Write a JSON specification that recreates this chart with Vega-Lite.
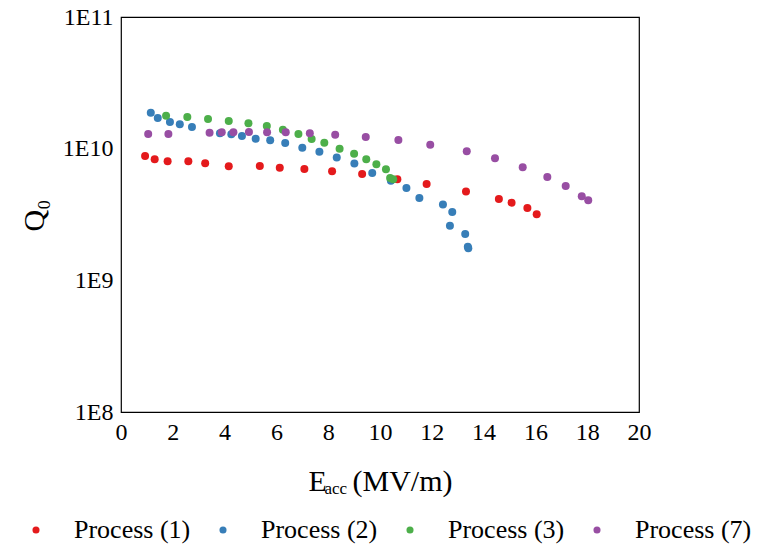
{
  "$schema": "https://vega.github.io/schema/vega-lite/v6.json",
  "width": 518,
  "height": 395,
  "autosize": {"type": "none"},
  "padding": {"left": 121, "top": 17, "right": 123, "bottom": 135},
  "background": "white",
  "config": {
    "font": "Liberation Serif",
    "view": {"stroke": "#000000", "strokeWidth": 1.2},
    "axis": {"domain": false, "grid": false, "ticks": false, "tickSize": 0, "labelFont": "Liberation Serif", "titleFont": "Liberation Serif", "labelColor": "#000000", "titleColor": "#000000", "titleFontWeight": "normal"}
  },
  "data": {"values": [
    {"p":"Process (1)","x":0.93,"q":8.80e9},
    {"p":"Process (1)","x":1.30,"q":8.31e9},
    {"p":"Process (1)","x":1.80,"q":8.03e9},
    {"p":"Process (1)","x":2.60,"q":8.03e9},
    {"p":"Process (1)","x":3.25,"q":7.75e9},
    {"p":"Process (1)","x":4.16,"q":7.35e9},
    {"p":"Process (1)","x":5.36,"q":7.38e9},
    {"p":"Process (1)","x":6.13,"q":7.17e9},
    {"p":"Process (1)","x":7.08,"q":7.01e9},
    {"p":"Process (1)","x":8.15,"q":6.73e9},
    {"p":"Process (1)","x":9.31,"q":6.42e9},
    {"p":"Process (1)","x":10.67,"q":5.86e9},
    {"p":"Process (1)","x":11.80,"q":5.40e9},
    {"p":"Process (1)","x":13.32,"q":4.72e9},
    {"p":"Process (1)","x":14.59,"q":4.15e9},
    {"p":"Process (1)","x":15.08,"q":3.89e9},
    {"p":"Process (1)","x":15.69,"q":3.55e9},
    {"p":"Process (1)","x":16.05,"q":3.18e9},
    {"p":"Process (2)","x":1.15,"q":1.876e10},
    {"p":"Process (2)","x":1.42,"q":1.711e10},
    {"p":"Process (2)","x":1.89,"q":1.595e10},
    {"p":"Process (2)","x":2.27,"q":1.532e10},
    {"p":"Process (2)","x":2.74,"q":1.462e10},
    {"p":"Process (2)","x":3.82,"q":1.309e10},
    {"p":"Process (2)","x":4.26,"q":1.286e10},
    {"p":"Process (2)","x":4.67,"q":1.248e10},
    {"p":"Process (2)","x":5.20,"q":1.191e10},
    {"p":"Process (2)","x":5.76,"q":1.158e10},
    {"p":"Process (2)","x":6.34,"q":1.105e10},
    {"p":"Process (2)","x":7.00,"q":1.018e10},
    {"p":"Process (2)","x":7.66,"q":9.49e9},
    {"p":"Process (2)","x":8.33,"q":8.55e9},
    {"p":"Process (2)","x":9.01,"q":7.72e9},
    {"p":"Process (2)","x":9.70,"q":6.54e9},
    {"p":"Process (2)","x":10.42,"q":5.71e9},
    {"p":"Process (2)","x":11.02,"q":5.03e9},
    {"p":"Process (2)","x":11.52,"q":4.22e9},
    {"p":"Process (2)","x":12.43,"q":3.76e9},
    {"p":"Process (2)","x":12.79,"q":3.31e9},
    {"p":"Process (2)","x":12.70,"q":2.60e9},
    {"p":"Process (2)","x":13.29,"q":2.25e9},
    {"p":"Process (2)","x":13.39,"q":1.80e9},
    {"p":"Process (2)","x":13.41,"q":1.75e9},
    {"p":"Process (3)","x":1.74,"q":1.781e10},
    {"p":"Process (3)","x":2.56,"q":1.741e10},
    {"p":"Process (3)","x":3.36,"q":1.681e10},
    {"p":"Process (3)","x":4.16,"q":1.623e10},
    {"p":"Process (3)","x":4.92,"q":1.560e10},
    {"p":"Process (3)","x":5.63,"q":1.488e10},
    {"p":"Process (3)","x":6.25,"q":1.394e10},
    {"p":"Process (3)","x":6.85,"q":1.293e10},
    {"p":"Process (3)","x":7.36,"q":1.185e10},
    {"p":"Process (3)","x":7.85,"q":1.111e10},
    {"p":"Process (3)","x":8.44,"q":1.0e10},
    {"p":"Process (3)","x":9.00,"q":9.16e9},
    {"p":"Process (3)","x":9.47,"q":8.31e9},
    {"p":"Process (3)","x":9.86,"q":7.61e9},
    {"p":"Process (3)","x":10.23,"q":6.97e9},
    {"p":"Process (3)","x":10.39,"q":5.99e9},
    {"p":"Process (3)","x":10.51,"q":5.86e9},
    {"p":"Process (7)","x":1.05,"q":1.293e10},
    {"p":"Process (7)","x":1.83,"q":1.293e10},
    {"p":"Process (7)","x":3.42,"q":1.323e10},
    {"p":"Process (7)","x":3.89,"q":1.332e10},
    {"p":"Process (7)","x":4.34,"q":1.332e10},
    {"p":"Process (7)","x":4.94,"q":1.339e10},
    {"p":"Process (7)","x":5.64,"q":1.332e10},
    {"p":"Process (7)","x":6.36,"q":1.332e10},
    {"p":"Process (7)","x":7.29,"q":1.309e10},
    {"p":"Process (7)","x":8.27,"q":1.278e10},
    {"p":"Process (7)","x":9.45,"q":1.227e10},
    {"p":"Process (7)","x":10.71,"q":1.164e10},
    {"p":"Process (7)","x":11.94,"q":1.073e10},
    {"p":"Process (7)","x":13.35,"q":9.56e9},
    {"p":"Process (7)","x":14.44,"q":8.46e9},
    {"p":"Process (7)","x":15.51,"q":7.22e9},
    {"p":"Process (7)","x":16.46,"q":6.10e9},
    {"p":"Process (7)","x":17.17,"q":5.21e9},
    {"p":"Process (7)","x":17.79,"q":4.35e9},
    {"p":"Process (7)","x":18.04,"q":4.06e9}
  ]},
  "layer": [
    {
      "mark": {"type": "circle", "size": 64, "opacity": 1},
      "encoding": {
        "x": {"field": "x", "type": "quantitative", "scale": {"domain": [0, 20], "nice": false, "zero": false},
              "axis": {"orient": "bottom", "values": [0,2,4,6,8,10,12,14,16,18,20], "labelFlush": false, "labelFont": "Liberation Serif", "labelFontSize": 24, "labelPadding": 8, "title": "E", "titleFontSize": 30, "titleX": 187, "titleY": 78, "titleAlign": "left", "titleBaseline": "alphabetic", "titleAngle": 0}},
        "y": {"field": "q", "type": "quantitative", "scale": {"type": "log", "domain": [1e8, 1e11], "nice": false},
              "axis": {"orient": "left", "values": [1e8, 1e9, 1e10, 1e11], "labelFlush": false, "labelFont": "Liberation Serif", "labelExpr": "'1E' + format(log(datum.value)/LN10, '.0f')", "labelFontSize": 24, "labelPadding": 8, "title": "Q₀", "titleFontSize": 30, "titleX": -78, "titleY": 198, "titleAngle": -90, "titleAlign": "center", "titleBaseline": "alphabetic"}},
        "color": {"field": "p", "type": "nominal",
                  "scale": {"domain": ["Process (1)", "Process (2)", "Process (3)", "Process (7)"], "range": ["#e41a1c", "#377eb8", "#4daf4a", "#984ea3"]},
                  "legend": {"title": null, "orient": "none", "legendX": -98, "legendY": 500, "direction": "horizontal", "symbolType": "circle", "symbolSize": 50, "symbolStrokeWidth": 0, "labelFont": "Liberation Serif", "labelFontSize": 26, "labelColor": "#000000", "labelOffset": 25, "columnPadding": 19}}
      }
    },
    {
      "mark": {"type": "circle", "size": 1, "opacity": 0},
      "encoding": {
        "x": {"field": "x", "type": "quantitative", "scale": {"domain": [0, 20], "nice": false, "zero": false},
              "axis": {"orient": "top", "labels": false, "ticks": false, "domain": false, "title": "acc", "titleFontSize": 17, "titleX": 203, "titleY": 476, "titleAlign": "left", "titleBaseline": "alphabetic", "titleAngle": 0}},
        "y": {"field": "q", "type": "quantitative", "scale": {"type": "log", "domain": [1e8, 1e11], "nice": false},
              "axis": {"orient": "right", "labels": false, "ticks": false, "domain": false, "title": "(MV/m)", "titleFontSize": 30, "titleX": -287, "titleY": 473, "titleAngle": 0, "titleAlign": "left", "titleBaseline": "alphabetic"}}
      }
    }
  ],
  "resolve": {"axis": {"x": "independent", "y": "independent"}}
}
